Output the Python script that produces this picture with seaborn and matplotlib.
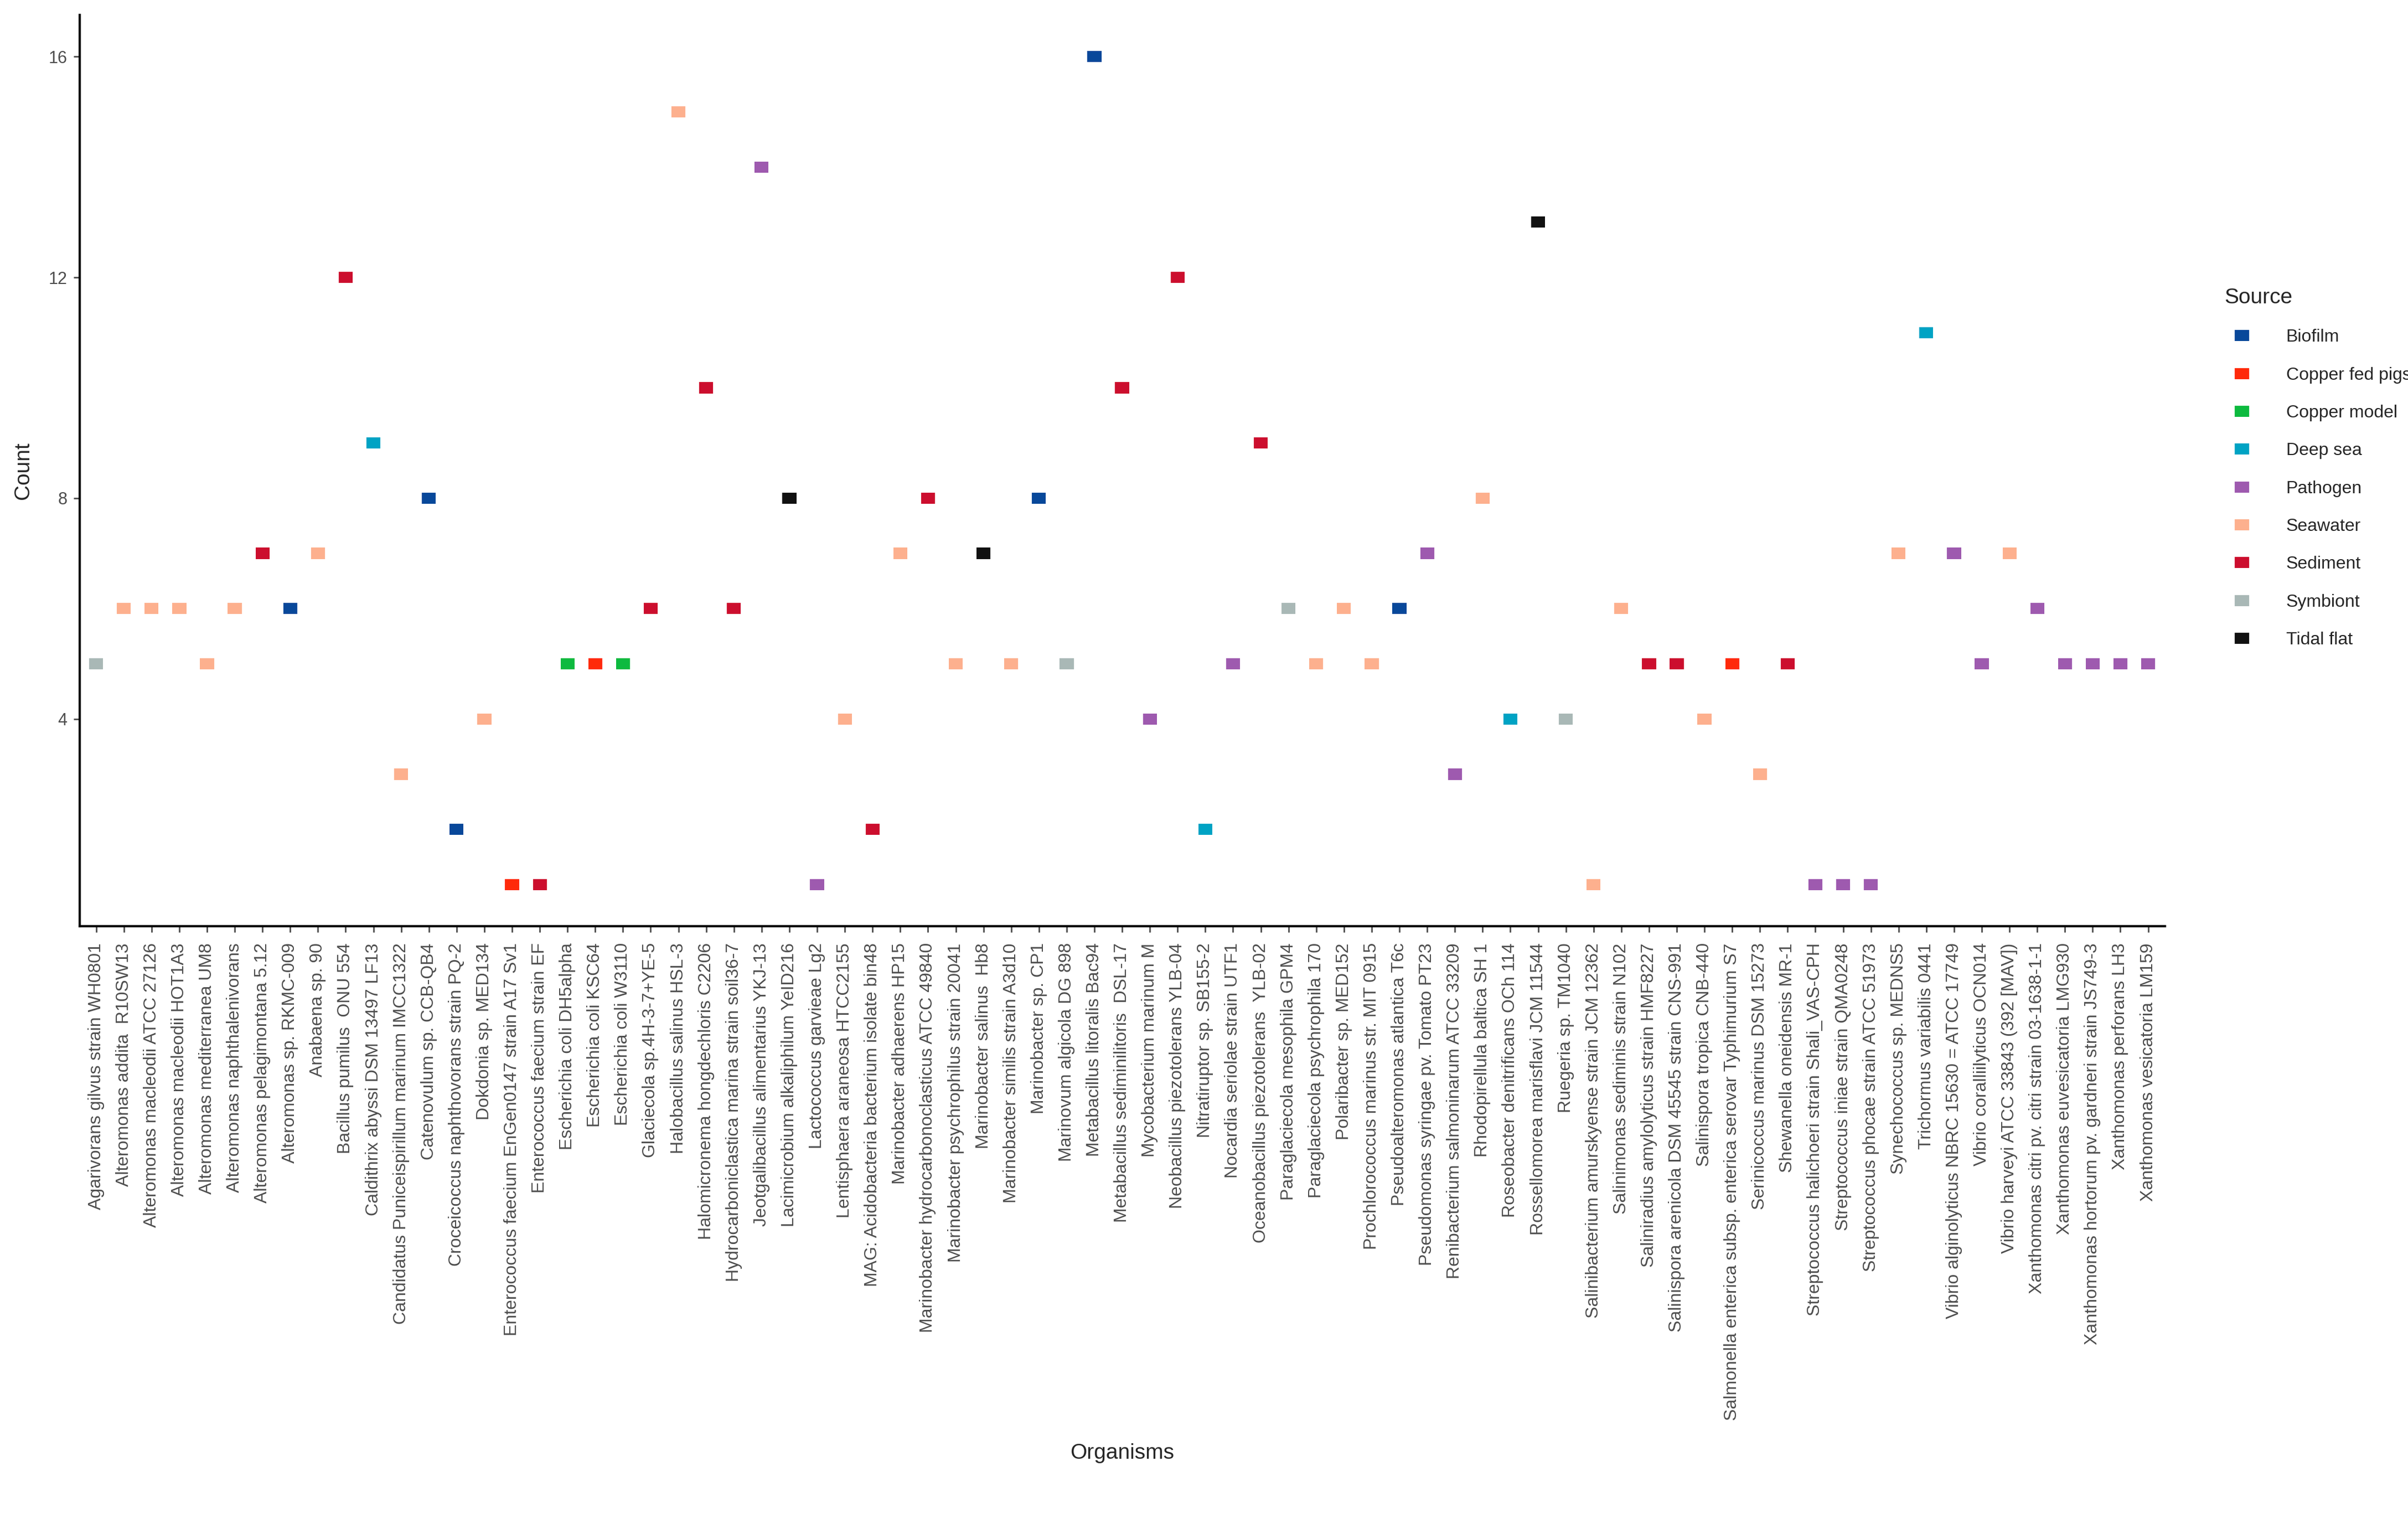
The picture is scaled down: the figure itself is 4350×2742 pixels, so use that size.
import matplotlib
matplotlib.use("Agg")
import matplotlib.pyplot as plt
import seaborn as sns
import pandas as pd

organisms = [
"Agarivorans gilvus strain WH0801","Alteromonas addita  R10SW13","Alteromonas macleodii ATCC 27126",
"Alteromonas macleodii HOT1A3","Alteromonas mediterranea UM8","Alteromonas naphthalenivorans",
"Alteromonas pelagimontana 5.12","Alteromonas sp. RKMC-009","Anabaena sp. 90","Bacillus pumilus  ONU 554",
"Caldithrix abyssi DSM 13497 LF13","Candidatus Puniceispirillum marinum IMCC1322","Catenovulum sp. CCB-QB4",
"Croceicoccus naphthovorans strain PQ-2","Dokdonia sp. MED134","Enterococcus faecium EnGen0147 strain A17 Sv1",
"Enterococcus faecium strain EF","Escherichia coli DH5alpha","Escherichia coli KSC64","Escherichia coli W3110",
"Glaciecola sp.4H-3-7+YE-5","Halobacillus salinus HSL-3","Halomicronema hongdechloris C2206",
"Hydrocarboniclastica marina strain soil36-7","Jeotgalibacillus alimentarius YKJ-13","Lacimicrobium alkaliphilum YeID216",
"Lactococcus garvieae Lg2","Lentisphaera araneosa HTCC2155","MAG: Acidobacteria bacterium isolate bin48",
"Marinobacter adhaerens HP15","Marinobacter hydrocarbonoclasticus ATCC 49840","Marinobacter psychrophilus strain 20041",
"Marinobacter salinus  Hb8","Marinobacter similis strain A3d10","Marinobacter sp. CP1","Marinovum algicola DG 898",
"Metabacillus litoralis Bac94","Metabacillus sediminilitoris  DSL-17","Mycobacterium marinum M",
"Neobacillus piezotolerans YLB-04","Nitratiruptor sp. SB155-2","Nocardia seriolae strain UTF1",
"Oceanobacillus piezotolerans  YLB-02","Paraglaciecola mesophila GPM4","Paraglaciecola psychrophila 170",
"Polaribacter sp. MED152","Prochlorococcus marinus str. MIT 0915","Pseudoalteromonas atlantica T6c",
"Pseudomonas syringae pv. Tomato PT23","Renibacterium salmoninarum ATCC 33209","Rhodopirellula baltica SH 1",
"Roseobacter denitrificans OCh 114","Rossellomorea marisflavi JCM 11544","Ruegeria sp. TM1040",
"Salinibacterium amurskyense strain JCM 12362","Salinimonas sediminis strain N102","Saliniradius amylolyticus strain HMF8227",
"Salinispora arenicola DSM 45545 strain CNS-991","Salinispora tropica CNB-440",
"Salmonella enterica subsp. enterica serovar Typhimurium S7","Serinicoccus marinus DSM 15273","Shewanella oneidensis MR-1",
"Streptococcus halichoeri strain Shali_VAS-CPH","Streptococcus iniae strain QMA0248","Streptococcus phocae strain ATCC 51973",
"Synechococcus sp. MEDNS5","Trichormus variabilis 0441","Vibrio alginolyticus NBRC 15630 = ATCC 17749",
"Vibrio coralliilyticus OCN014","Vibrio harveyi ATCC 33843 (392 [MAV])","Xanthomonas citri pv. citri strain 03-1638-1-1",
"Xanthomonas euvesicatoria LMG930","Xanthomonas hortorum pv. gardneri strain JS749-3","Xanthomonas perforans LH3",
"Xanthomonas vesicatoria LM159"]

counts = [5,6,6,6,5,6,7,6,7,12,
          9,3,8,2,4,1,1,5,5,5,
          6,15,10,6,14,8,1,4,2,7,
          8,5,7,5,8,5,16,10,4,12,
          2,5,9,6,5,6,5,6,7,3,
          8,4,13,4,1,6,5,5,4,5,
          3,5,1,1,1,7,11,7,5,7,
          6,5,5,5,5]

sources = ["Symbiont","Seawater","Seawater","Seawater","Seawater","Seawater","Sediment","Biofilm","Seawater","Sediment",
           "Deep sea","Seawater","Biofilm","Biofilm","Seawater","Copper fed pigs","Sediment","Copper model","Copper fed pigs","Copper model",
           "Sediment","Seawater","Sediment","Sediment","Pathogen","Tidal flat","Pathogen","Seawater","Sediment","Seawater",
           "Sediment","Seawater","Tidal flat","Seawater","Biofilm","Symbiont","Biofilm","Sediment","Pathogen","Sediment",
           "Deep sea","Pathogen","Sediment","Symbiont","Seawater","Seawater","Seawater","Biofilm","Pathogen","Pathogen",
           "Seawater","Deep sea","Tidal flat","Symbiont","Seawater","Seawater","Sediment","Sediment","Seawater","Copper fed pigs",
           "Seawater","Sediment","Pathogen","Pathogen","Pathogen","Seawater","Deep sea","Pathogen","Pathogen","Seawater",
           "Pathogen","Pathogen","Pathogen","Pathogen","Pathogen"]

source_order = ["Biofilm","Copper fed pigs","Copper model","Deep sea","Pathogen","Seawater","Sediment","Symbiont","Tidal flat"]
palette_colors = ["#08489A","#FF2A0A","#0DBA3F","#00A3C4","#9E5AAF","#FDB08E","#CC0E2E","#A9B8B6","#111111"]

df = pd.DataFrame({"Organisms": organisms, "Count": counts, "Source": sources})

sns.set_theme(style="ticks")
plt.rcParams['font.family'] = ['Liberation Sans', 'DejaVu Sans']

fig = plt.figure(figsize=(43.5, 27.42), dpi=100)
ax = fig.add_axes([0.033, 0.390, 0.866, 0.600])

rect = [(-1.25, -1), (1.25, -1), (1.25, 1), (-1.25, 1)]
sns.scatterplot(data=df, x="Organisms", y="Count", hue="Source", hue_order=source_order,
                palette=dict(zip(source_order, palette_colors)), marker=rect, s=330,
                linewidth=0, ax=ax)

ax.set_ylim(0.25, 16.75)
ax.set_xlim(-0.6, len(organisms) - 0.4)
ax.set_yticks([4, 8, 12, 16])
ax.tick_params(axis='x', labelrotation=90, labelsize=23, colors='#4d4d4d', length=8, width=2, pad=14)
ax.tick_params(axis='y', labelsize=22, colors='#4d4d4d', length=8, width=2, pad=8)
for sp in ['top', 'right']:
    ax.spines[sp].set_visible(False)
for sp in ['left', 'bottom']:
    ax.spines[sp].set_linewidth(3)
    ax.spines[sp].set_color('black')
ax.set_xlabel("Organisms", fontsize=28, labelpad=30)
ax.set_ylabel("Count", fontsize=28, labelpad=20)

leg = ax.legend(title="Source", loc="upper left", bbox_to_anchor=(1.02, 0.72), frameon=False,
                fontsize=23, title_fontsize=28, markerscale=1.0, labelspacing=1.2,
                handletextpad=1.5, borderpad=0.5)
leg._legend_box.align = "left"

fig.savefig("out.png", dpi=100)
